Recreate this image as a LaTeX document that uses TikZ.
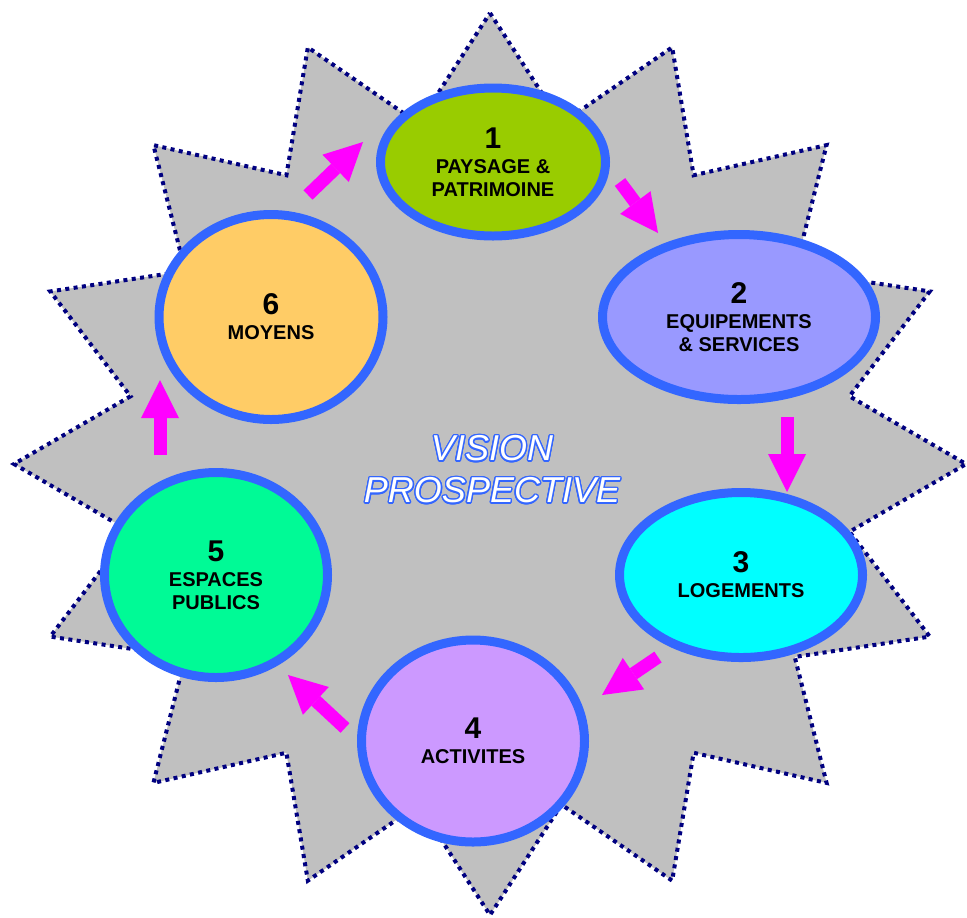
\documentclass[tikz,border=0pt]{standalone}
\usepackage{fontspec}
\setmainfont{Liberation Sans}
\usepackage{xcolor}
\usepackage[copies]{contour}
\usepackage{tikz}
\usetikzlibrary{arrows.meta,calc,positioning,shapes.geometric}
\definecolor{rim}{HTML}{3366FF}
\definecolor{starfill}{HTML}{C0C0C0}
\definecolor{stardot}{HTML}{000080}
\definecolor{flowc}{HTML}{FF00FF}
\definecolor{cpp}{HTML}{99CC00}
\definecolor{ces}{HTML}{9999FF}
\definecolor{clg}{HTML}{00FFFF}
\definecolor{cac}{HTML}{CC99FF}
\definecolor{cep}{HTML}{00FA96}
\definecolor{cmo}{HTML}{FFCC66}
\contourlength{0.7pt}
\newcommand{\bignum}[1]{{\fontsize{15}{15}\selectfont #1}}
\tikzset{%
	star/.style     = {draw=stardot, fill=starfill, line width=2pt, dash pattern=on 2pt off 2.2pt}, % Background
	theme/.style    = {draw=rim, ellipse, line width=4.5pt, inner sep=0pt, align=center, font=\bfseries\fontsize{10}{11.5}\selectfont}, % Theme
	flow/.style     = {draw=flowc, line width=6.5pt, -{Triangle[length=19pt,width=19pt,line width=0pt]}}, % Arrow
	title/.style    = {text=white, inner sep=0pt, font=\itshape\fontsize{18}{18}\selectfont}, % Title
}

\begin{document}
\begin{tikzpicture}[x=0.5pt,y=-0.5pt,node distance=21pt]
	\useasboundingbox (0,0) rectangle (967,917);
	\draw[star] (490,13) \foreach \i [evaluate=\i as \a using 90-11.25*\i, evaluate=\i as \r using 1-0.23*isodd(\i)] in {1,...,31} {
		-- ({490+476*\r*cos(\a)},{464-451*\r*sin(\a)})} -- cycle;
	
	\node [theme,fill=cpp,minimum width=112.5pt,minimum height=74pt] (pp) at (493,162) {\bignum{1}\\[1pt]PAYSAGE \&\\PATRIMOINE};
	\node [theme,fill=ces,minimum width=136.5pt,minimum height=82.5pt] (es) at (739,317) {\bignum{2}\\[1pt]EQUIPEMENTS\\\& SERVICES};
	\node [theme,fill=clg,minimum width=121.5pt,minimum height=82.5pt] (lg) at (741,575) {\bignum{3}\\[1pt]LOGEMENTS};
	\node [theme,fill=cac,minimum width=111.5pt,minimum height=101pt] (ac) at (473,741) {\bignum{4}\\[1pt]ACTIVITES};
	\node [theme,fill=cep,minimum width=111.5pt,minimum height=102.5pt] (ep) at (216,575) {\bignum{5}\\[1pt]ESPACES\\PUBLICS};
	\node [theme,fill=cmo,minimum width=112pt,minimum height=102.5pt] (mo) at (271,317) {\bignum{6}\\[1pt]MOYENS};
	
	\node [title] (vis) at (492,449) {\contour{rim}{VISION}};
	\node [title] (pros) [below of=vis] {\contour{rim}{PROSPECTIVE}};
	
	\coordinate (mopp1) at (308,195);
	\coordinate (mopp2) at (363,142);
	\coordinate (ppes1) at (620,182);
	\coordinate (ppes2) at (658,233);
	\coordinate (eslg1) at (787,417);
	\coordinate (eslg2) at (787,492);
	\coordinate (lgac1) at (658,657);
	\coordinate (lgac2) at (602,695);
	\coordinate (acep1) at (345,728);
	\coordinate (acep2) at (288,675);
	\coordinate (epmo1) at (160,455);
	\coordinate (epmo2) at (160,380);
	
	\draw[flow] (mopp1) -- (mopp2);
	\draw[flow] (ppes1) -- (ppes2);
	\draw[flow] (eslg1) -- (eslg2);
	\draw[flow] (lgac1) -- (lgac2);
	\draw[flow] (acep1) -- (acep2);
	\draw[flow] (epmo1) -- (epmo2);
\end{tikzpicture}
\end{document}
